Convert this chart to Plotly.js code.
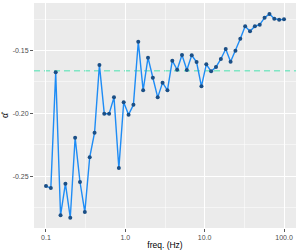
<!DOCTYPE html>
<html>
<head>
<meta charset="utf-8">
<script src="https://cdn.plot.ly/plotly-3.0.1.min.js"></script>
<style>html,body{margin:0;padding:0;background:#fff;}#chart{width:300px;height:250px;}</style>
</head>
<body>
<div id="chart"></div>
<script>
const freq = [0.1, 0.11514, 0.13257, 0.15264, 0.17575, 0.20236, 0.233, 0.26827, 0.30888, 0.35565,
  0.40949, 0.47149, 0.54287, 0.62506, 0.71969, 0.82864, 0.9541, 1.0985, 1.2649, 1.4563,
  1.6768, 1.9307, 2.223, 2.5595, 2.9471, 3.3932, 3.9069, 4.4984, 5.1795, 5.9636,
  6.8665, 7.906, 9.103, 10.481, 12.068, 13.895, 15.999, 18.421, 21.21, 24.421,
  28.118, 32.375, 37.276, 42.919, 49.417, 56.899, 65.513, 75.431, 86.851, 100];
const alphaHat = [-0.2579, -0.2595, -0.1674, -0.2812, -0.2560, -0.2831, -0.2194, -0.2547, -0.2786, -0.2350,
  -0.2154, -0.1615, -0.2003, -0.2003, -0.1873, -0.2436, -0.1912, -0.2011, -0.1932, -0.1430,
  -0.1817, -0.1557, -0.1717, -0.1873, -0.1756, -0.1817, -0.1581, -0.1653, -0.1536, -0.1655,
  -0.1538, -0.1592, -0.1785, -0.1610, -0.1666, -0.1631, -0.1568, -0.1488, -0.1589, -0.1502,
  -0.1406, -0.1307, -0.1347, -0.1307, -0.1295, -0.1239, -0.1209, -0.1247, -0.1255, -0.1252];
const refLevel = -0.1661;
const xTickVals = [0.1, 1, 10, 100];
const xTickText = ["0.1", "1.0", "10.0", "100.0"];
const xMinorVals = [0.031623, 0.31623, 3.1623, 31.623];
const yTickVals = [-0.25, -0.20, -0.15];
const yTickText = ["-0.25", "-0.20", "-0.15"];
const yMinorVals = [-0.275, -0.225, -0.175, -0.125];

const traces = [
  {x: freq, y: alphaHat, type: 'scatter', mode: 'lines', line: {color: '#1E8CF5', width: 1.4}, hoverinfo: 'skip'},
  {x: freq, y: alphaHat, type: 'scatter', mode: 'markers', marker: {color: '#1B4F86', size: 4}, hoverinfo: 'skip'}
];
const layout = {
  width: 300, height: 250,
  margin: {l: 34, r: 4, t: 3, b: 22},
  paper_bgcolor: '#ffffff', plot_bgcolor: '#EBEBEB',
  showlegend: false,
  font: {family: 'Liberation Sans, Arial, sans-serif', color: '#4D4D4D', size: 7},
  xaxis: {
    type: 'log', range: [-1.151, 2.151],
    tickmode: 'array', tickvals: xTickVals, ticktext: xTickText,
    showgrid: true, gridcolor: '#ffffff', gridwidth: 1,
    minor: {tickmode: 'array', tickvals: xMinorVals, showgrid: true, gridcolor: '#ffffff', gridwidth: 0.5, ticks: ''},
    zeroline: false, showline: false,
    ticks: 'outside', ticklen: 3, tickwidth: 0.8, tickcolor: '#333333',
    tickfont: {size: 7, color: '#4D4D4D'},
    title: {text: 'freq. (Hz)', font: {size: 8.5, color: '#000000'}, standoff: 3}
  },
  yaxis: {
    range: [-0.2913, -0.1122],
    tickmode: 'array', tickvals: yTickVals, ticktext: yTickText,
    showgrid: true, gridcolor: '#ffffff', gridwidth: 1,
    minor: {tickmode: 'array', tickvals: yMinorVals, showgrid: true, gridcolor: '#ffffff', gridwidth: 0.5, ticks: ''},
    zeroline: false, showline: false,
    ticks: 'outside', ticklen: 3, tickwidth: 0.8, tickcolor: '#333333',
    tickfont: {size: 7, color: '#4D4D4D'},
    title: {text: 'α̂', font: {size: 8.5, color: '#000000'}, standoff: 3}
  },
  shapes: [
    {type: 'line', xref: 'paper', x0: 0, x1: 1, yref: 'y', y0: refLevel, y1: refLevel,
     line: {color: '#7FE6C4', width: 1.4, dash: '6px,4px'}, layer: 'below'}
  ]
};
Plotly.newPlot('chart', traces, layout, {displayModeBar: false, staticPlot: true});
</script>
</body>
</html>
